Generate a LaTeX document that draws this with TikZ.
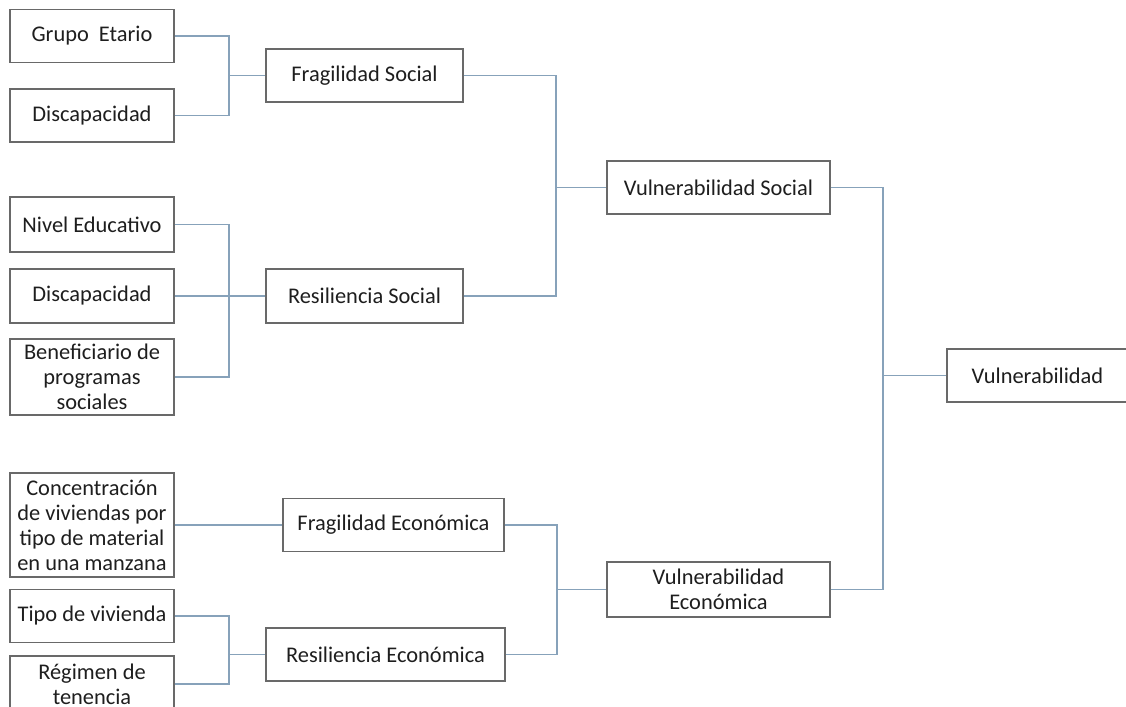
\documentclass[tikz,border=0pt]{standalone}
\usepackage{fontspec}
\setmainfont{Carlito}
\usepackage{xcolor}

\definecolor{lineaazul}{RGB}{135,162,186}
\definecolor{bordegris}{RGB}{105,105,105}
\definecolor{textogris}{RGB}{30,30,30}

\begin{document}
\begin{tikzpicture}[x=0.5pt, y=-0.5pt,
    every node/.style={font=\fontsize{11.2}{12.5}\selectfont, text=textogris},
    caja/.style={draw=bordegris, line width=0.6pt, fill=white, align=center, inner sep=1pt, minimum height=26.5pt},
    izq/.style={caja, minimum width=82pt},
    linea/.style={draw=lineaazul, line width=0.6pt}]
    \useasboundingbox (0,0) rectangle (1126,707);

    % Indicadores
    \node[izq] (ge) at (92,36) {Grupo\ \ Etario};
    \node[izq] (d1) at (92,115.5) {Discapacidad};
    \node[izq, minimum height=27.5pt] (ne) at (92,224.5) {Nivel Educativo};
    \node[izq, minimum height=27pt] (d2) at (92,296) {Discapacidad};
    \node[izq, minimum height=38pt] (bp) at (92,377) {Beneficiario de\\programas\\sociales};
    \node[izq, minimum height=52pt] (cv) at (92,525) {Concentración\\de viviendas por\\tipo de material\\en una manzana};
    \node[izq] (tv) at (92,616) {Tipo de vivienda};
    \node[izq, minimum height=28pt] (rt) at (92,684) {Régimen de\\tenencia};

    % Fragilidad y resiliencia
    \node[caja, minimum width=98.5pt] (fs) at (364.5,75.5) {Fragilidad Social};
    \node[caja, minimum width=98.5pt, minimum height=27pt] (rs) at (364.5,296) {Resiliencia Social};
    \node[caja, minimum width=110.5pt] (fe) at (393.5,525) {Fragilidad Económica};
    \node[caja, minimum width=119.5pt] (re) at (385.5,654.5) {Resiliencia Económica};

    % Vulnerabilidades
    \node[caja, minimum width=111.5pt] (vs) at (718.5,187.5) {Vulnerabilidad Social};
    \node[caja, minimum width=111.5pt, minimum height=27.5pt] (ve) at (718.5,589.5) {Vulnerabilidad\\Económica};
    \node[caja, minimum width=90.5pt] (v) at (1037.5,375.5) {Vulnerabilidad};

    % Puntos de union
    \coordinate (b1) at (229,75.5);
    \coordinate (b2) at (229,296);
    \coordinate (b3) at (229,654.5);
    \coordinate (b4) at (556,187.5);
    \coordinate (b5) at (557,589.5);
    \coordinate (b6) at (883,375.5);

    % Conectores
    \draw[linea] (ge.east) -| (b1);
    \draw[linea] (d1.east) -| (b1);
    \draw[linea] (b1) -- (fs.west);

    \draw[linea] (ne.east) -| (b2);
    \draw[linea] (bp.east) -| (b2);
    \draw[linea] (d2.east) -- (rs.west);

    \draw[linea] (cv.east) -- (fe.west);

    \draw[linea] (tv.east) -| (b3);
    \draw[linea] (rt.east) -| (b3);
    \draw[linea] (b3) -- (re.west);

    \draw[linea] (fs.east) -| (b4);
    \draw[linea] (rs.east) -| (b4);
    \draw[linea] (b4) -- (vs.west);

    \draw[linea] (fe.east) -| (b5);
    \draw[linea] (re.east) -| (b5);
    \draw[linea] (b5) -- (ve.west);

    \draw[linea] (vs.east) -| (b6);
    \draw[linea] (ve.east) -| (b6);
    \draw[linea] (b6) -- (v.west);
\end{tikzpicture}
\end{document}
